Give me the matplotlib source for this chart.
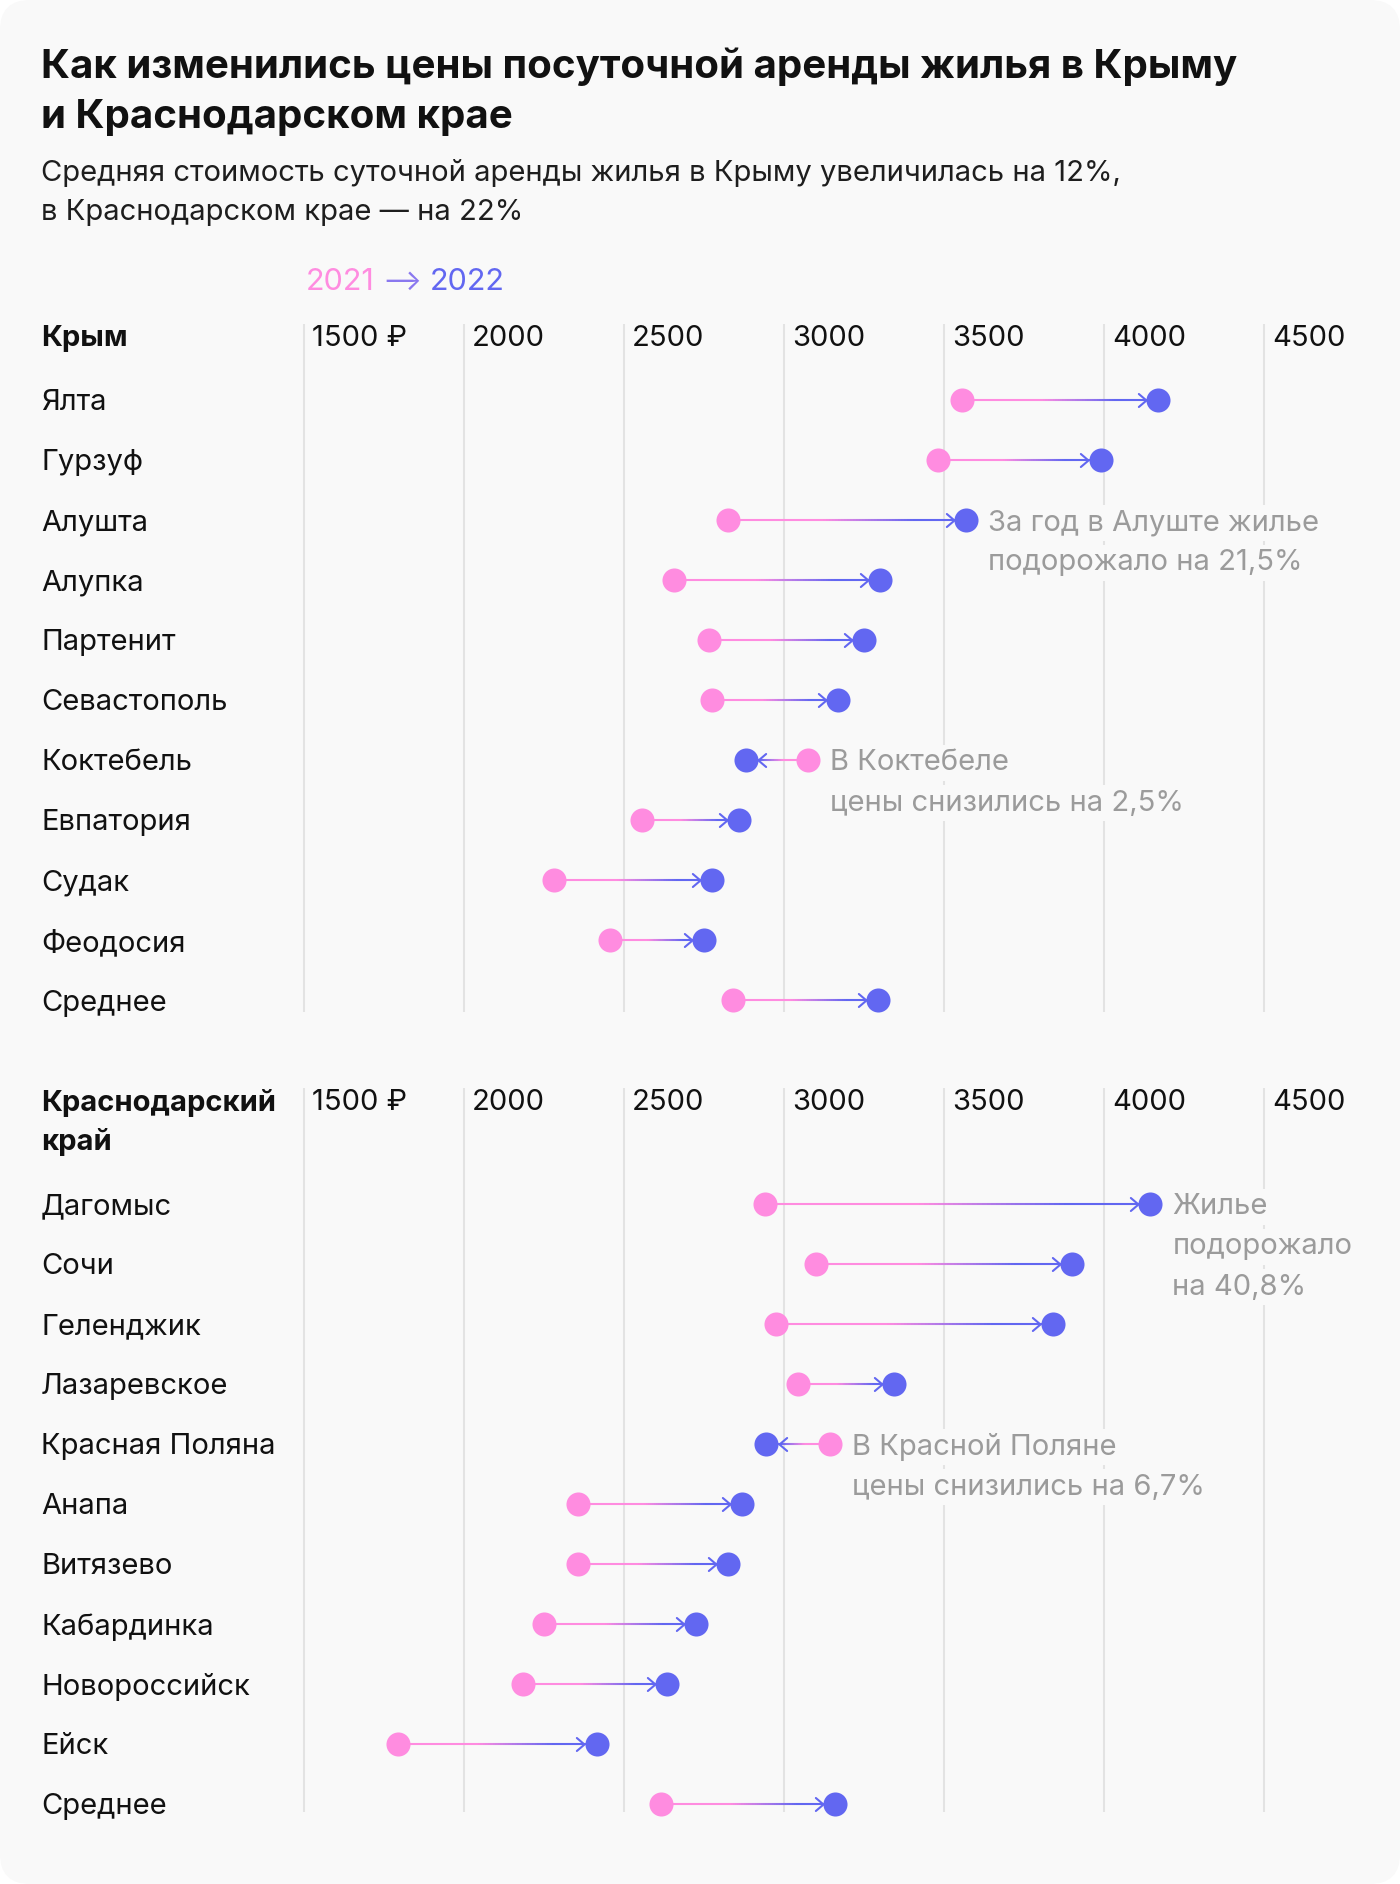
import numpy as np
import matplotlib
matplotlib.use('Agg')
import matplotlib.pyplot as plt
import matplotlib.transforms as mtransforms
from matplotlib.collections import LineCollection
from matplotlib.colors import to_rgb
from matplotlib.markers import MarkerStyle
from matplotlib.patches import FancyBboxPatch
from matplotlib.path import Path

plt.rcParams['font.family'] = ['Inter', 'DejaVu Sans']

# ---- data (rub per day) ----
crimea_cities = ['Ялта', 'Гурзуф', 'Алушта', 'Алупка', 'Партенит', 'Севастополь',
                 'Коктебель', 'Евпатория', 'Судак', 'Феодосия', 'Среднее']
crimea_2021 = [3555, 3480, 2825, 2655, 2765, 2775, 3075, 2555, 2280, 2455, 2840]
crimea_2022 = [4170, 3990, 3570, 3300, 3250, 3170, 2880, 2860, 2775, 2750, 3295]

krasnodar_cities = ['Дагомыс', 'Сочи', 'Геленджик', 'Лазаревское', 'Красная Поляна',
                    'Анапа', 'Витязево', 'Кабардинка', 'Новороссийск', 'Ейск', 'Среднее']
krasnodar_2021 = [2940, 3100, 2975, 3045, 3145, 2355, 2355, 2250, 2185, 1795, 2615]
krasnodar_2022 = [4145, 3900, 3840, 3345, 2945, 2870, 2825, 2725, 2635, 2415, 3160]

ticks = [1500, 2000, 2500, 3000, 3500, 4000, 4500]
tick_labels = ['1500 ₽', '2000', '2500', '3000', '3500', '4000', '4500']

crimea_notes = {2: ['За год в Алуште жилье', 'подорожало на 21,5%'],
                6: ['В Коктебеле', 'цены снизились на 2,5%']}
krasnodar_notes = {0: ['Жилье', 'подорожало', 'на 40,8%'],
                   4: ['В Красной Поляне', 'цены снизились на 6,7%']}

title = 'Как изменились цены посуточной аренды жилья в Крыму\nи Краснодарском крае'
subtitle_lines = ['Средняя стоимость суточной аренды жилья в Крыму увеличилась на 12%,',
                  'в Краснодарском крае — на 22%']

BG = '#f9f9f9'
PINK = '#ff8ce0'
BLUE = '#6267f1'
GRID = '#e3e3e3'
GRAY = '#9b9b9b'
INK = '#111111'

W, H = 1400, 1884
fig = plt.figure(figsize=(W / 100, H / 100), dpi=100)
fig.patch.set_facecolor('white')
card = FancyBboxPatch((0, 0), W, H, boxstyle='round,pad=0,rounding_size=30',
                      transform=mtransforms.IdentityTransform(),
                      fc=BG, ec='none', zorder=-10)
fig.patches.append(card)


def fy(px):
    return 1 - px / H


# x scale: 1500 at 304 px, 500 rub = 160 px
def xval(px):
    return 1500 + (px - 304) * 500 / 160


chevron = Path([(-1, 0.85), (0, 0), (-1, -0.85)],
               [Path.MOVETO, Path.LINETO, Path.LINETO])
chev_r = MarkerStyle(chevron, fillstyle='none', joinstyle='miter', capstyle='round')
chev_l = MarkerStyle(chevron, fillstyle='none', joinstyle='miter', capstyle='round',
                     transform=mtransforms.Affine2D().scale(-1, 1))

pink_rgb = np.array(to_rgb(PINK))
blue_rgb = np.array(to_rgb(BLUE))

FS = 21
VA = 'center_baseline'


def section(top, bottom, first_row, header, cities, v21, v22, notes):
    ax = fig.add_axes([0, fy(bottom), 1, (bottom - top) / H])
    ax.set_xlim(xval(0), xval(W))
    ax.set_ylim((bottom - first_row) / 60, (top - first_row) / 60)
    ax.set_facecolor('none')
    for s in ax.spines.values():
        s.set_visible(False)
    ax.set_xticks(ticks)
    ax.set_yticks([])
    ax.tick_params(length=0, labelbottom=False)
    ax.grid(axis='x', color=GRID, lw=1.5)
    ax.set_axisbelow(True)

    lab_row = (top + 12 - first_row) / 60
    shift = mtransforms.ScaledTranslation(8 / 100, 0, fig.dpi_scale_trans)
    for t, lab in zip(ticks, tick_labels):
        ax.text(t, lab_row, lab, transform=ax.transData + shift, ha='left', va=VA,
                fontsize=FS, color=INK)

    tr_lab = mtransforms.blended_transform_factory(fig.transFigure, ax.transData)
    for k, line in enumerate(header):
        ax.text(41 / W, lab_row + k * 39 / 60, line, transform=tr_lab, ha='left', va=VA,
                fontsize=FS, fontweight='bold', color=INK)

    for i, (c, a, b) in enumerate(zip(cities, v21, v22)):
        ax.text(41 / W, i, c, transform=tr_lab, ha='left', va=VA, fontsize=FS, color=INK)
        n = 80
        xs = np.linspace(a, b, n + 1)
        segs = [[(xs[j], i), (xs[j + 1], i)] for j in range(n)]
        t = (np.arange(n) + 0.5) / n
        w = np.clip((t - 0.4) / 0.38, 0, 1)
        cols = (1 - w)[:, None] * pink_rgb + w[:, None] * blue_rgb
        ax.add_collection(LineCollection(segs, colors=cols, linewidths=1.5, zorder=2,
                                         clip_on=False))
        d = 1 if b > a else -1
        off = mtransforms.ScaledTranslation(-d * 12.5 / 100, 0, fig.dpi_scale_trans)
        ax.plot([b], [i], marker=chev_r if d > 0 else chev_l, ms=11, mew=1.5,
                color=BLUE, transform=ax.transData + off, zorder=3, clip_on=False)
        ax.scatter([a], [i], s=300, color=PINK, lw=0, zorder=4, clip_on=False)
        ax.scatter([b], [i], s=300, color=BLUE, lw=0, zorder=4, clip_on=False)
        if i in notes:
            for k, line in enumerate(notes[i]):
                ax.annotate(line, xy=(max(a, b), i), xytext=(22, -40 * k),
                            textcoords='offset pixels', ha='left', va=VA,
                            fontsize=FS, color=GRAY, zorder=5,
                            bbox=dict(fc=BG, ec='none', pad=3))
    return ax


ax1 = section(324, 1012, 400, ['Крым'], crimea_cities, crimea_2021, crimea_2022, crimea_notes)
ax2 = section(1088, 1812, 1204, ['Краснодарский', 'край'], krasnodar_cities,
              krasnodar_2021, krasnodar_2022, krasnodar_notes)

# title and subtitle
for k, line in enumerate(title.split('\n')):
    fig.text(41 / W, fy(63 + 50 * k), line, ha='left', va=VA, fontsize=29,
             fontweight='bold', color=INK)
for k, line in enumerate(subtitle_lines):
    fig.text(41 / W, fy(170 + 40 * k), line, ha='left', va=VA, fontsize=FS, color='#1e1e1e')

# legend 2021 -> 2022
t1 = fig.text(306 / W, fy(279), '2021', ha='left', va=VA, fontsize=FS + 1, color=PINK)
t2 = ax1.annotate('⟶', xy=(1, 0.5), xycoords=t1, xytext=(8, 0), textcoords='offset pixels',
                  ha='left', va='center', fontsize=FS, color='#8a78ef', annotation_clip=False)
ax1.annotate('2022', xy=(1, 0.5), xycoords=t2, xytext=(8, 0), textcoords='offset pixels',
             ha='left', va='center', fontsize=FS + 1, color=BLUE, annotation_clip=False)

fig.savefig('out.png', dpi=100, facecolor='white')
